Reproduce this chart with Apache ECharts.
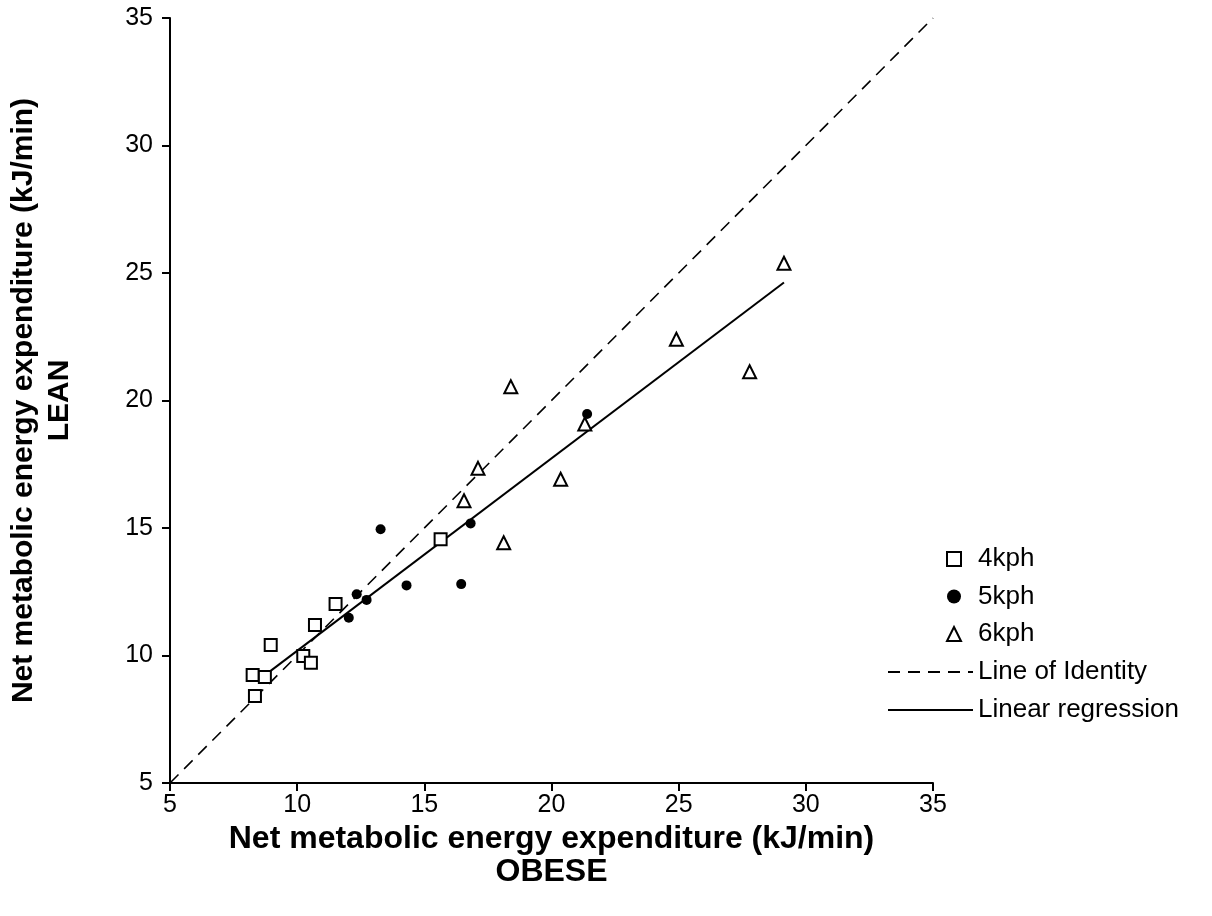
<!DOCTYPE html>
<html>
<head>
<meta charset="utf-8">
<script src="https://cdn.jsdelivr.net/npm/echarts@6/dist/echarts.min.js"></script>
<style>
html,body{margin:0;padding:0;background:#fff;}
#chart{width:1212px;height:916px;}
</style>
</head>
<body>
<div id="chart"></div>
<script>
// Data (Obese x, Lean y) in kJ/min
const kph4 = [
  [8.25, 9.24], [8.73, 9.16], [8.96, 10.41], [8.34, 8.41], [10.24, 9.98],
  [10.54, 9.72], [10.70, 11.20], [11.51, 12.02], [15.64, 14.56]
];
const kph5 = [
  [12.34, 12.40], [12.73, 12.18], [12.03, 11.48], [13.28, 14.95], [14.30, 12.75],
  [16.45, 12.80], [16.82, 15.18], [21.40, 19.47]
];
const kph6 = [
  [17.11, 17.34], [16.56, 16.07], [18.12, 14.42], [20.36, 16.91], [21.31, 19.08],
  [18.40, 20.54], [24.91, 22.40], [27.79, 21.13], [29.14, 25.38]
];
const identityLine = [[5, 5], [35, 35]];
const regressionLine = [[8.67, 9.18], [29.14, 24.63]];
const seriesNames = ['4kph', '5kph', '6kph', 'Line of Identity', 'Linear regression'];
const axisTitleX = 'Net metabolic energy expenditure (kJ/min)\nOBESE';
const axisTitleY = 'Net metabolic energy expenditure (kJ/min)\nLEAN';

const FONT = '"Liberation Sans", Arial, sans-serif';
const chart = echarts.init(document.getElementById('chart'), null, {renderer: 'canvas'});

const axisCommon = {
  type: 'value', min: 5, max: 35, interval: 5,
  axisLine: {show: true, onZero: false, lineStyle: {color: '#000', width: 2}},
  axisTick: {show: true, inside: false, length: 8, lineStyle: {color: '#000', width: 2}},
  splitLine: {show: false},
  axisLabel: {color: '#000', fontSize: 25, fontFamily: FONT, margin: 10},
  nameLocation: 'middle',
  nameTextStyle: {color: '#000', fontSize: 32, fontWeight: 'bold', fontFamily: FONT, lineHeight: 33}
};

const legendText = {color: '#000', fontSize: 26, fontFamily: FONT, lineHeight: 26};

chart.setOption({
  animation: false,
  backgroundColor: '#fff',
  grid: {left: 170, right: 279, top: 18, bottom: 133, containLabel: false, outerBoundsMode: 'none'},
  xAxis: Object.assign({}, axisCommon, {name: axisTitleX, nameGap: 37}),
  yAxis: Object.assign({}, axisCommon, {
    name: axisTitleY, nameGap: 92,
    axisLabel: {color: '#000', fontSize: 25, fontFamily: FONT, margin: 17},
    nameTextStyle: {color: '#000', fontSize: 30, fontWeight: 'bold', fontFamily: FONT, lineHeight: 36}
  }),
  legend: [
    {
      data: seriesNames.slice(0, 3),
      orient: 'vertical', left: 946, top: 546, padding: 0,
      itemWidth: 14, itemHeight: 14, itemGap: 11.5,
      textStyle: Object.assign({}, legendText, {padding: [0, 0, 0, 12]}),
      selectedMode: false
    },
    {
      data: seriesNames.slice(3),
      orient: 'vertical', left: 887, top: 659, padding: 0,
      itemWidth: 85, itemHeight: 14, itemGap: 12,
      textStyle: legendText,
      selectedMode: false
    }
  ],
  series: [
    {
      name: seriesNames[3], type: 'line', data: identityLine, symbol: 'none', z: 1,
      itemStyle: {color: '#000', opacity: 0},
      lineStyle: {color: '#000', width: 1.6, type: [12, 8]}
    },
    {
      name: seriesNames[4], type: 'line', data: regressionLine, symbol: 'none', z: 1,
      itemStyle: {color: '#000', opacity: 0},
      lineStyle: {color: '#000', width: 2}
    },
    {
      name: seriesNames[0], type: 'scatter', data: kph4, symbol: 'rect', symbolSize: 12, z: 3,
      itemStyle: {color: '#fff', borderColor: '#000', borderWidth: 2, opacity: 1}
    },
    {
      name: seriesNames[1], type: 'scatter', data: kph5, symbol: 'circle', symbolSize: 10, z: 3,
      itemStyle: {color: '#000', opacity: 1}
    },
    {
      name: seriesNames[2], type: 'scatter', data: kph6, symbol: 'triangle', symbolSize: 13, z: 3,
      itemStyle: {color: '#fff', borderColor: '#000', borderWidth: 2, opacity: 1}
    }
  ]
});
</script>
</body>
</html>
